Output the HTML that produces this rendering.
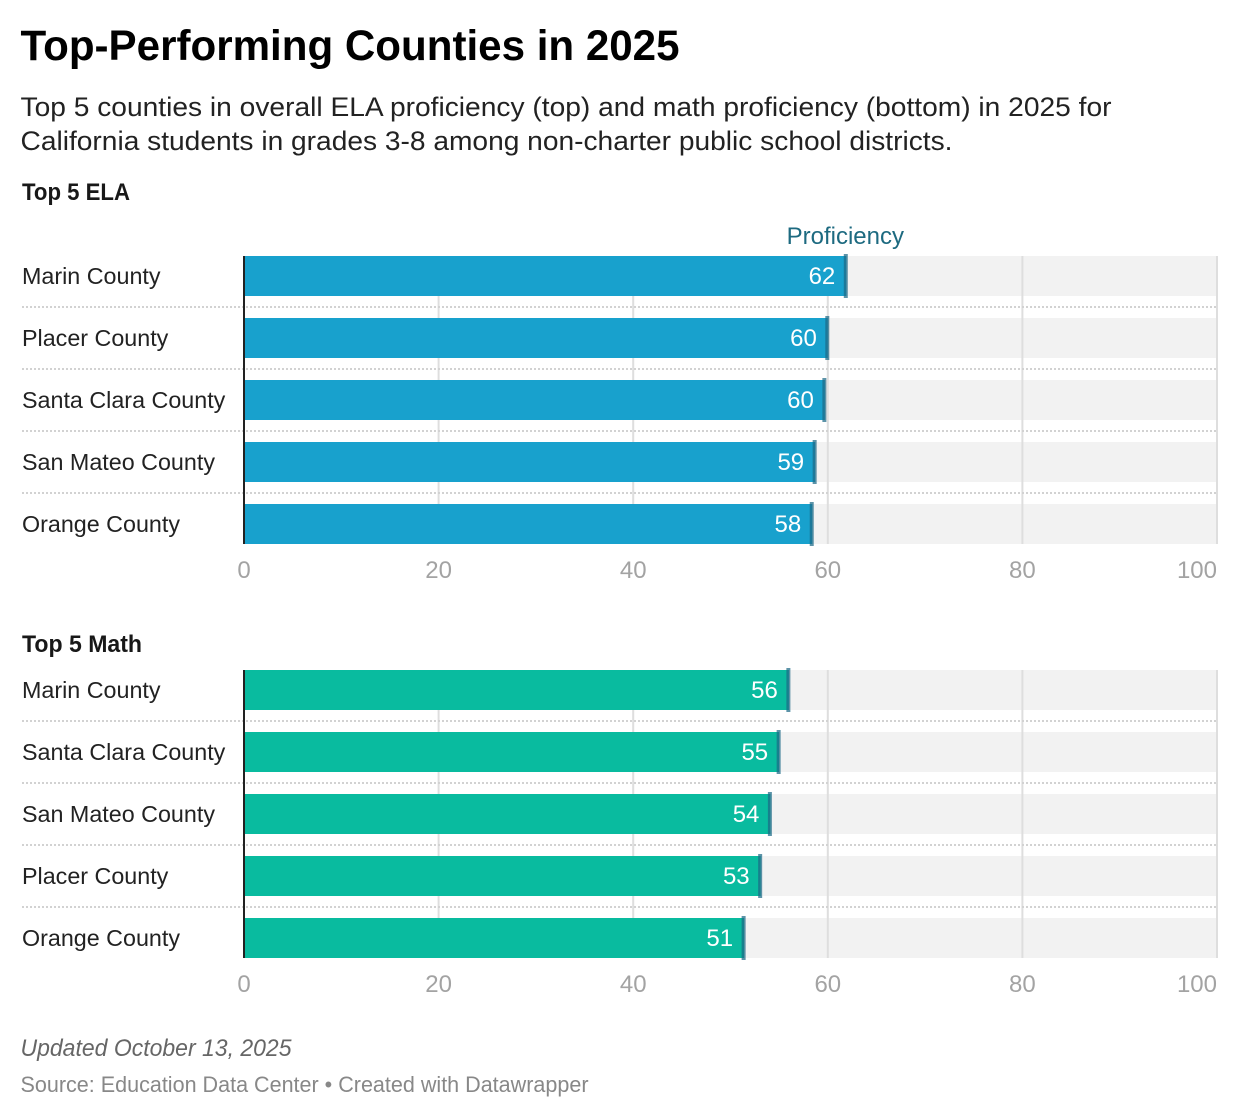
<!DOCTYPE html>
<html lang="en">
<head>
<meta charset="utf-8">
<title>Top-Performing Counties in 2025</title>
<style>
html,body{margin:0;padding:0;background:#fff;}
svg{display:block;font-family:"Liberation Sans",sans-serif;}
</style>
</head>
<body>
<svg id="chart" width="1240" height="1118" viewBox="0 0 1240 1118" xmlns="http://www.w3.org/2000/svg">
  <text x="20.5" y="60" font-size="43" font-weight="700" fill="#000" textLength="659" lengthAdjust="spacingAndGlyphs">Top-Performing Counties in 2025</text>
  <text x="20.5" y="116" font-size="27" fill="#222" textLength="1091" lengthAdjust="spacingAndGlyphs">Top 5 counties in overall ELA proficiency (top) and math proficiency (bottom) in 2025 for</text>
  <text x="20.5" y="150" font-size="27" fill="#222" textLength="932" lengthAdjust="spacingAndGlyphs">California students in grades 3-8 among non-charter public school districts.</text>
  <text x="22" y="200" font-size="24" font-weight="700" fill="#181818" textLength="108" lengthAdjust="spacingAndGlyphs">Top 5 ELA</text>
  <text x="22" y="652" font-size="24" font-weight="700" fill="#181818" textLength="120" lengthAdjust="spacingAndGlyphs">Top 5 Math</text>
  <text x="20.5" y="1056" font-size="24" font-style="italic" fill="#666" textLength="271" lengthAdjust="spacingAndGlyphs">Updated October 13, 2025</text>
  <text x="20.5" y="1092" font-size="22" fill="#888" textLength="568" lengthAdjust="spacingAndGlyphs">Source: Education Data Center • Created with Datawrapper</text>
  <g id="plots"></g>
</svg>
<script>
const elaCounties = ['Marin County', 'Placer County', 'Santa Clara County', 'San Mateo County', 'Orange County'];
const elaValues = [61.9, 60.0, 59.7, 58.7, 58.4];
const mathCounties = ['Marin County', 'Santa Clara County', 'San Mateo County', 'Placer County', 'Orange County'];
const mathValues = [56.0, 55.0, 54.1, 53.1, 51.4];
const axisTicks = [0, 20, 40, 60, 80, 100];
const columnHeader = 'Proficiency';

const NS = 'http://www.w3.org/2000/svg';
const root = document.getElementById('plots');
const AXIS_LEFT = 244, AXIS_WIDTH = 973, ROW_STEP = 62, BAR_H = 40;
function xScale(v) { return AXIS_LEFT + v / 100 * AXIS_WIDTH; }
function node(tag, attrs, text) {
  const el = document.createElementNS(NS, tag);
  for (const k in attrs) el.setAttribute(k, attrs[k]);
  if (text !== undefined) el.textContent = text;
  root.appendChild(el);
  return el;
}
function drawPanel(prefix, counties, values, top, color) {
  const bottom = top + (counties.length - 1) * ROW_STEP + BAR_H;
  counties.forEach(function (name, i) {
    const y = top + i * ROW_STEP;
    const bg = node('rect', { x: AXIS_LEFT, y: y, width: AXIS_WIDTH + 1, height: BAR_H, fill: '#f2f2f2' });
    
    
  });
  axisTicks.forEach(function (t) {
    if (t === 0) return;
    const gx = Math.min(xScale(t), AXIS_LEFT + AXIS_WIDTH);
    const grid = node('line', { x1: gx, x2: gx, y1: top, y2: bottom, stroke: '#dedede', 'stroke-width': 2 });
    
    
  });
  counties.forEach(function (name, i) {
    const y = top + i * ROW_STEP;
    const v = values[i];
    if (i > 0) {
      const sep = node('line', { x1: 22, x2: AXIS_LEFT + AXIS_WIDTH, y1: y - 11, y2: y - 11, stroke: '#d2d2d2', 'stroke-width': 2, 'stroke-dasharray': '2 2' });
      
      
    }
    const label = node('text', { x: 22, y: y + 28, 'font-size': 23.3, fill: '#222' }, name);
    
    
    const bar = node('rect', { x: AXIS_LEFT, y: y, width: xScale(v) - AXIS_LEFT, height: BAR_H, fill: color });
    
    
    const marker = node('rect', { x: xScale(v) - 2.5, y: y - 2, width: 4, height: BAR_H + 4, fill: '#1d6a86', 'fill-opacity': 0.72 });
    
    
    const valueLabel = node('text', { x: xScale(v) - 11, y: y + 28, 'font-size': 24, fill: '#fff', 'text-anchor': 'end' }, String(Math.round(v)));
    
    
  });
  const base = node('line', { x1: AXIS_LEFT, x2: AXIS_LEFT, y1: top, y2: bottom, stroke: '#222', 'stroke-width': 2 });
  
  
  axisTicks.forEach(function (t, i) {
    const last = i === axisTicks.length - 1;
    const tick = node('text', { x: xScale(t), y: bottom + 34, 'font-size': 24, fill: '#a3a3a3', 'text-anchor': last ? 'end' : 'middle' }, String(t));
    
    
  });
}
drawPanel('ela', elaCounties, elaValues, 256, '#18a1cd');
drawPanel('math', mathCounties, mathValues, 670, '#09bb9f');
const header = node('text', { x: xScale(elaValues[0]) - 1, y: 244, 'font-size': 24, fill: '#1d6a80', 'text-anchor': 'middle' }, columnHeader);


</script>
</body>
</html>
